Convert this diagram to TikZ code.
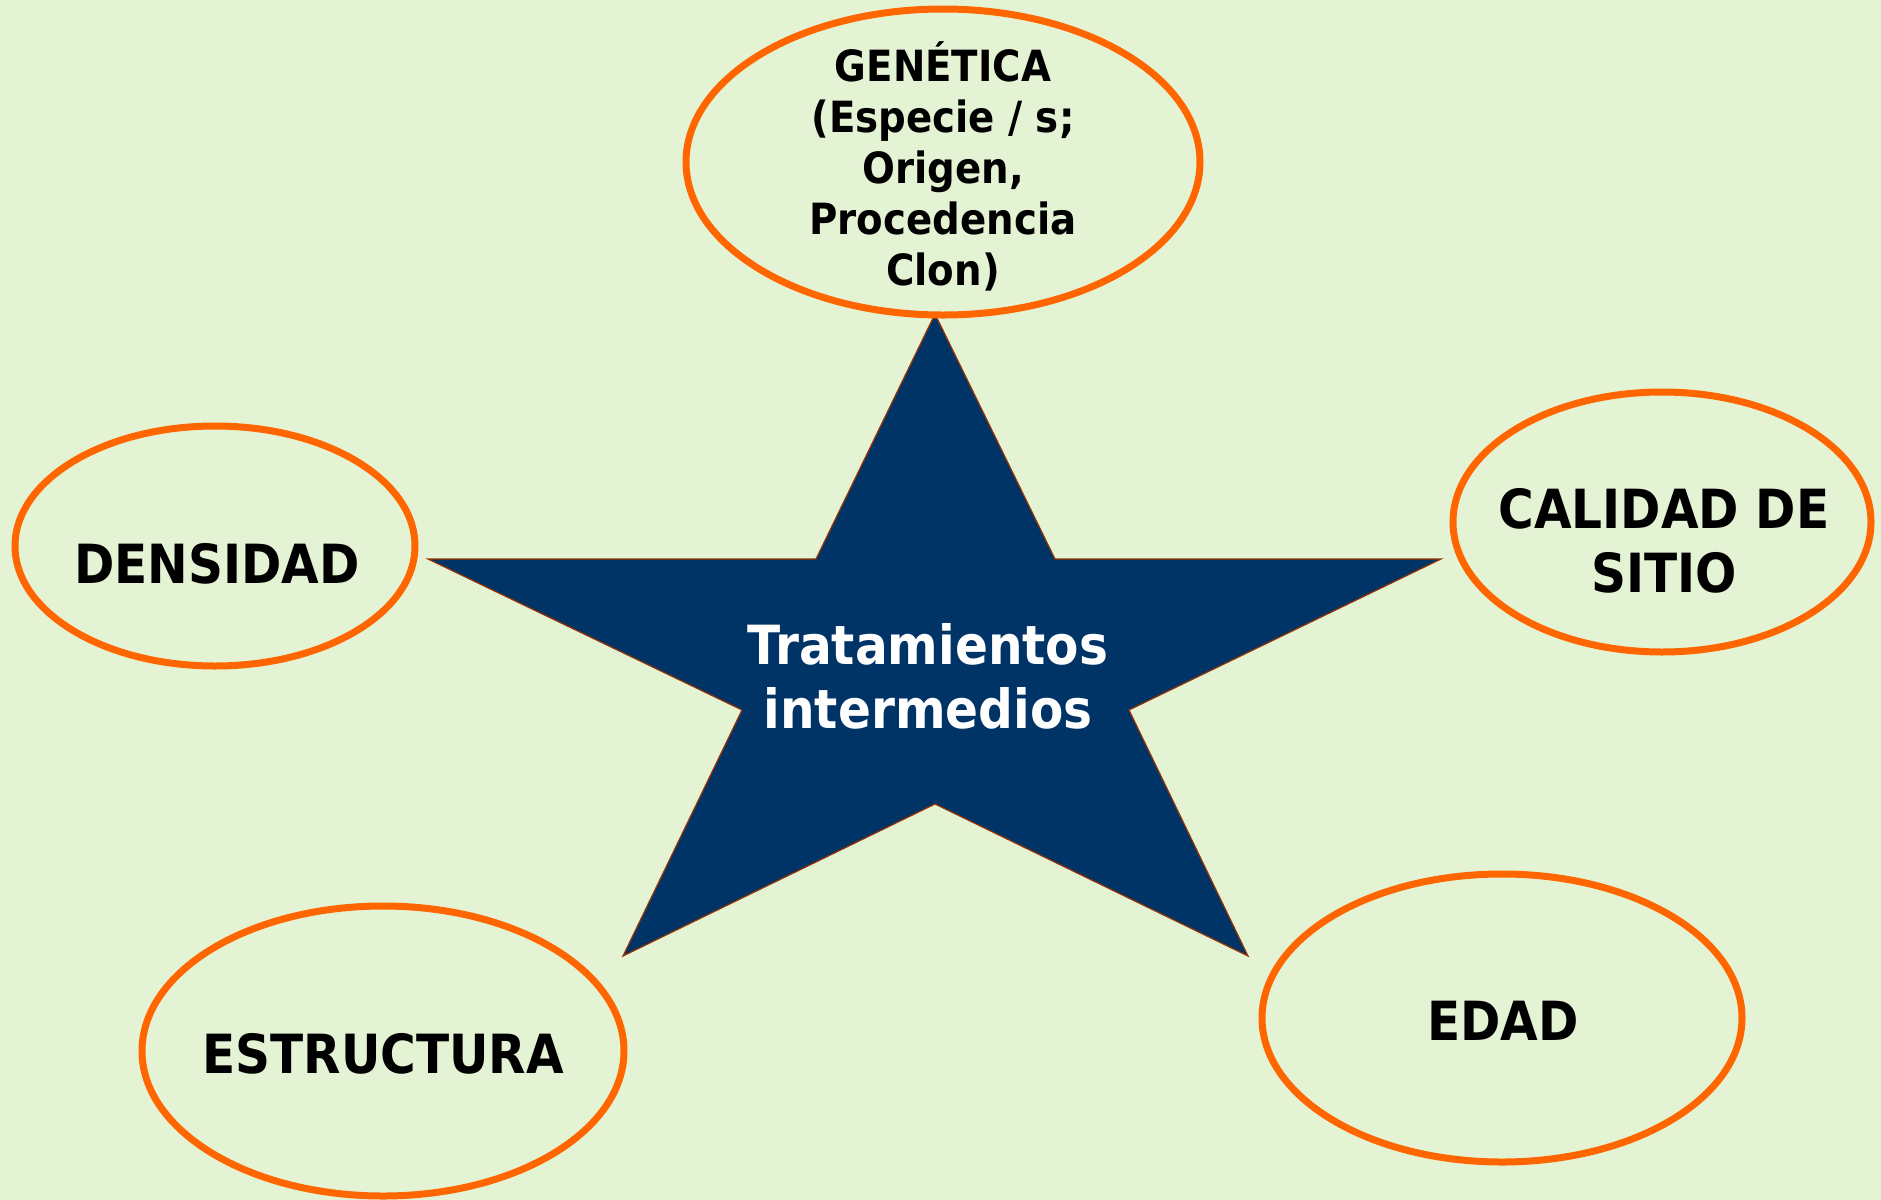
\documentclass[tikz,border=0pt]{standalone}
\usepackage{fontspec}
\setmainfont{DejaVu Sans Condensed}
\usetikzlibrary{shapes.geometric}

\definecolor{fondo}{HTML}{E5F3D5}
\definecolor{naranja}{HTML}{FF6600}
\definecolor{azul}{HTML}{003366}
\definecolor{borde}{HTML}{993300}

\tikzset{
  factor/.style={ellipse, draw=naranja, line width=3.5pt, inner sep=0pt},
  rotulo/.style={align=center, font=\bfseries\fontsize{27}{32}\selectfont},
  estrella/.style={fill=azul, draw=borde, line width=0.6pt, line join=miter}
}

\begin{document}
\begin{tikzpicture}[x=0.5pt, y=-0.5pt]
\useasboundingbox[fill=fondo] (0,0) rectangle (1881,1200);
% estrella central
\draw[estrella] (935,314) -- (1055,559) -- (1441,559) -- (1129,710) -- (1248,956)
  -- (935,804) -- (623,956) -- (742,710) -- (428,559) -- (816,559) -- cycle;
\node (centro) [rotulo, text=white] at (928,676) {Tratamientos\\intermedios};
% factores
\node (genetica) [factor, minimum width=257pt, minimum height=153pt] at (943,162) {};
\node (densidad) [factor, minimum width=200pt, minimum height=120pt] at (215,546) {};
\node (calidad) [factor, minimum width=209pt, minimum height=130pt] at (1662,522) {};
\node (edad) [factor, minimum width=240pt, minimum height=144pt] at (1502,1018) {};
\node (estructura) [factor, minimum width=241pt, minimum height=145pt] at (383,1051) {};
% textos
\node (tgenetica) [rotulo, font=\bfseries\fontsize{21.5}{25.5}\selectfont] at (943,166) {GENÉTICA\\(Especie / s;\\Origen,\\Procedencia\\Clon)};
\node (tdensidad) [rotulo] at (217,564) {DENSIDAD};
\node (tcalidad) [rotulo] at (1664,541) {CALIDAD DE\\SITIO};
\node (tedad) [rotulo] at (1503,1021) {EDAD};
\node (testructura) [rotulo] at (383,1054) {ESTRUCTURA};
\end{tikzpicture}
\end{document}
